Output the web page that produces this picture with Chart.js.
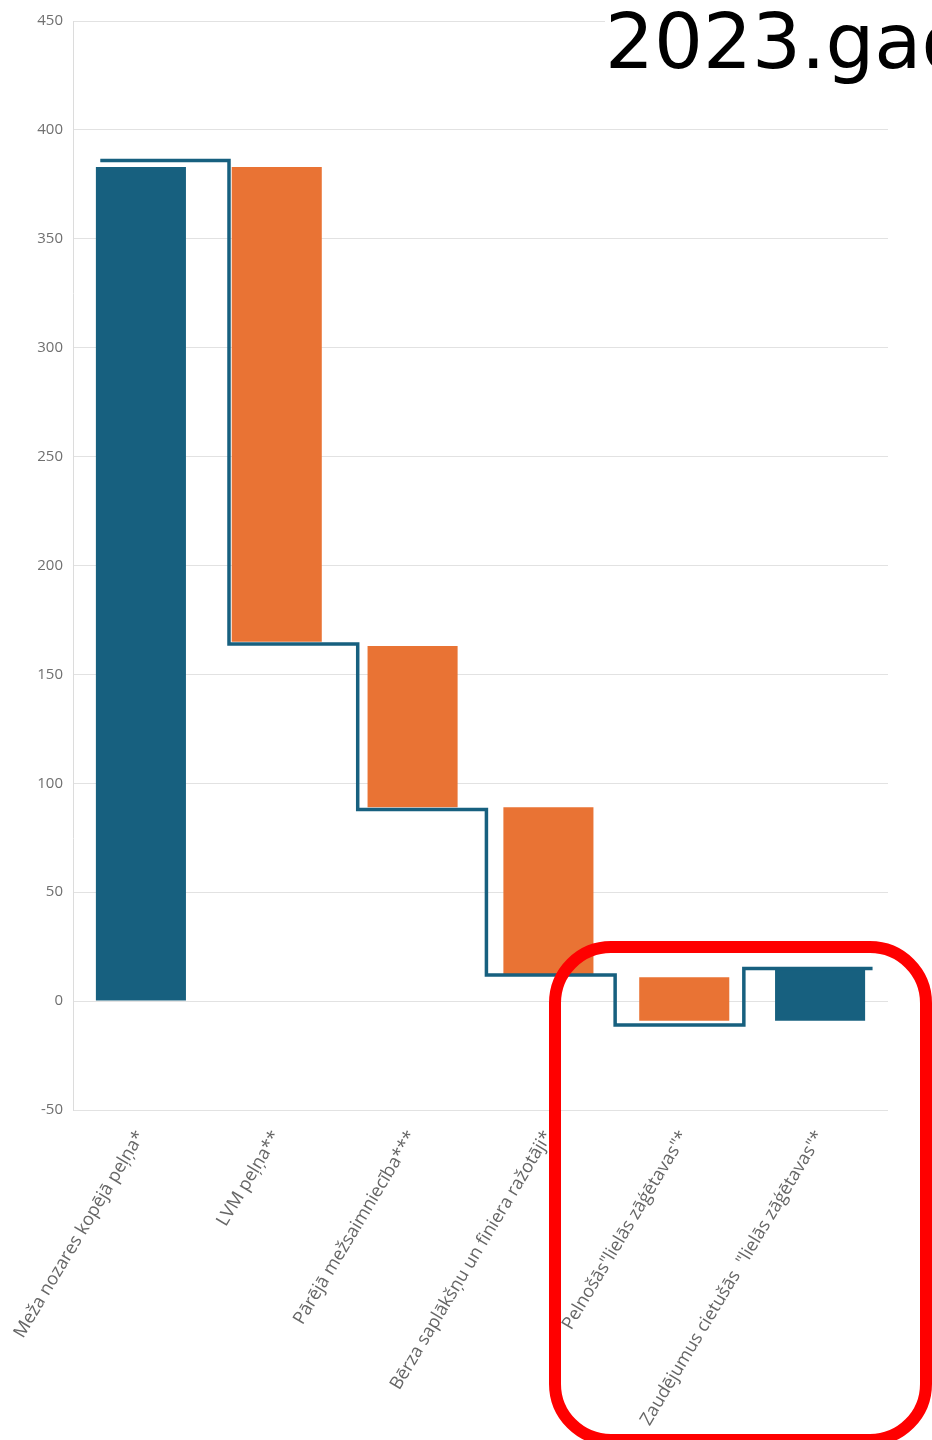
<!DOCTYPE html>
<html>
<head>
<meta charset="utf-8">
<script src="https://cdn.jsdelivr.net/npm/chart.js@4.4.1/dist/chart.umd.min.js"></script>
<style>
  html, body { margin: 0; padding: 0; background: #fff; overflow: hidden; }
  #wrap { position: relative; width: 932px; height: 1440px; overflow: hidden; }
  #c { position: absolute; left: 0; top: 0; }
  #title { position: absolute; left: 605px; top: 0px; width: 400px; height: 95px; background: #fff;
           font-family: "DejaVu Sans", sans-serif; font-size: 77px; line-height: 77px;
           color: #000; white-space: nowrap; padding-top: 3px; box-sizing: border-box; }
  #mark { position: absolute; left: 549px; top: 941px; width: 383px; height: 505px; box-sizing: border-box;
          border: 12px solid #ff0000; border-radius: 62px; pointer-events: none; }
</style>
</head>
<body>
<div id="wrap">
  <canvas id="c" width="932" height="1440"></canvas>
  <div id="title">2023.gadā</div>
  <div id="mark"></div>
</div>
<script>
const categories = [
  'Meža nozares kopējā peļņa*',
  'LVM peļņa**',
  'Pārējā mežsaimniecība***',
  'Bērza saplākšņu un finiera ražotāji*',
  'Pelnošās"lielās zāģētavas"*',
  'Zaudējumus cietušās  "lielās zāģētavas"*'
];
const barLow  = [0, 165, 89, 12, -9, -9];
const barHigh = [383, 383, 163, 89, 11, 15];
const barKind = ['total', 'change', 'change', 'change', 'change', 'total'];
const stepLevels = [386, 164, 88, 12, -11, 15];
const yTicks = [-50, 0, 50, 100, 150, 200, 250, 300, 350, 400, 450];

const BLUE = '#17607F';
const ORANGE = '#E97334';

const barData = categories.map((c, i) => [barLow[i], barHigh[i]]);
const barColors = barKind.map(k => k === 'total' ? BLUE : ORANGE);
const stepData = stepLevels.map((v, i) => ({ x: i, y: v }));
stepData.push({ x: stepLevels.length, y: stepLevels[stepLevels.length - 1] });

new Chart(document.getElementById('c'), {
  type: 'bar',
  data: {
    labels: categories,
    datasets: [
      {
        type: 'line',
        data: stepData,
        xAxisID: 'xs',
        yAxisID: 'y',
        borderColor: BLUE,
        borderWidth: 3.5,
        stepped: true,
        pointRadius: 0,
        fill: false,
        order: 0
      },
      {
        type: 'bar',
        data: barData,
        xAxisID: 'x',
        yAxisID: 'y',
        backgroundColor: barColors,
        borderWidth: 0,
        grouped: false,
        barPercentage: 0.663,
        categoryPercentage: 1,
        order: 1
      }
    ]
  },
  options: {
    responsive: false,
    animation: false,
    devicePixelRatio: 1,
    layout: { padding: { left: 0, right: 44, top: 21, bottom: 0 } },
    plugins: { legend: { display: false }, tooltip: { enabled: false }, title: { display: false } },
    scales: {
      x: {
        type: 'category',
        position: 'bottom',
        offset: true,
        grid: { display: false },
        border: { display: false },
        ticks: {
          autoSkip: false,
          minRotation: 59,
          maxRotation: 59,
          padding: 9,
          color: '#666',
          font: { family: '"Open Sans", "Noto Sans", sans-serif', size: 18 }
        },
        afterFit: s => { s.height = 330; }
      },
      xs: {
        type: 'linear',
        display: false,
        offset: false,
        min: -0.212,
        max: 6.12
      },
      y: {
        type: 'linear',
        min: -50,
        max: 450,
        afterBuildTicks: s => { s.ticks = yTicks.map(v => ({ value: v })); },
        grid: { color: '#e2e2e2', lineWidth: 1, drawTicks: false },
        border: { display: true, color: '#dcdcdc', width: 1 },
        ticks: {
          padding: 10,
          color: '#707070',
          font: { family: '"Open Sans", "Noto Sans", sans-serif', size: 15 }
        },
        afterFit: s => { s.width = 73; }
      }
    }
  }
});
</script>
</body>
</html>
